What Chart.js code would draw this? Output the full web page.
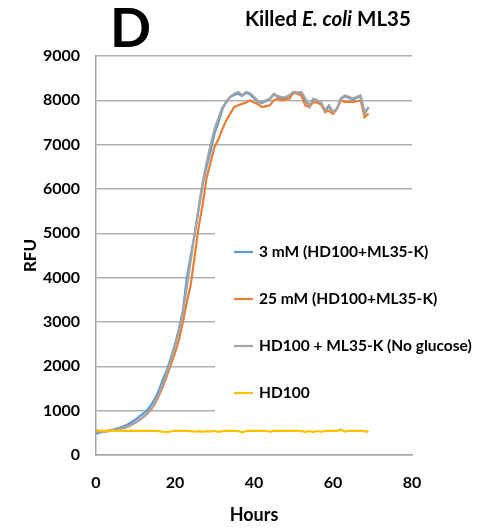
<!DOCTYPE html>
<html>
<head>
<meta charset="utf-8">
<script src="https://cdn.jsdelivr.net/npm/chart.js@4.4.1/dist/chart.umd.min.js"></script>
<style>
  html, body { margin: 0; padding: 0; background: #fff; }
  canvas { display: block; }
</style>
</head>
<body>
<canvas id="rfu-chart" width="488" height="528"></canvas>
<script>
const hours = [
  0, 1, 2, 3, 4, 5, 6, 7, 8, 9, 10, 11, 12, 13, 14, 15, 16, 17, 18, 19,
  20, 21, 22, 23, 24, 25, 26, 27, 28, 29, 30, 31, 32, 33, 34, 35, 36, 37, 38, 39,
  40, 41, 42, 43, 44, 45, 46, 47, 48, 49, 50, 51, 52, 53, 54, 55, 56, 57, 58, 59,
  60, 61, 62, 63, 64, 65, 66, 67, 68, 69,
];

const seriesNames = [
  "3 mM (HD100+ML35-K)",
  "25 mM (HD100+ML35-K)",
  "HD100 + ML35-K (No glucose)",
  "HD100",
];

const blue3mM = [
  480, 505, 530, 545, 565, 590, 615, 650, 690, 740, 800, 870, 940, 1010, 1140, 1280, 1480, 1720, 1930, 2200,
  2500, 2850, 3250, 4000, 4500, 5000, 5550, 6100, 6500, 6850, 7250, 7500, 7800, 7980, 8080, 8120, 8150, 8100, 8170, 8130,
  8050, 7970, 7940, 7980, 8020, 8130, 8080, 8050, 8060, 8100, 8170, 8160, 8170, 8000, 7850, 8020, 7990, 7920, 7740, 7870,
  7710, 7800, 8030, 8090, 8060, 8020, 8060, 8090, 7700, 7840,
];

const orange25mM = [
  520, 520, 530, 540, 555, 570, 590, 610, 640, 680, 730, 790, 860, 930, 1030, 1170, 1350, 1560, 1800, 2050,
  2300, 2600, 3000, 3450, 3850, 4500, 5150, 5650, 6250, 6600, 6950, 7120, 7350, 7550, 7700, 7850, 7890, 7920, 7950, 8000,
  7950, 7910, 7850, 7870, 7890, 8000, 8040, 8000, 8020, 8040, 8180, 8150, 8100, 7880, 7850, 7960, 7950, 7900, 7740, 7760,
  7700, 7820, 8000, 7960, 7970, 7960, 7980, 8000, 7620, 7700,
];

const grayNoGlucose = [
  520, 520, 530, 540, 555, 570, 590, 610, 640, 680, 730, 790, 860, 940, 1050, 1200, 1400, 1620, 1880, 2150,
  2450, 2800, 3200, 3800, 4400, 5000, 5600, 6150, 6600, 7000, 7350, 7600, 7850, 7950, 8080, 8150, 8190, 8120, 8190, 8160,
  8080, 7990, 7960, 8000, 8040, 8150, 8100, 8070, 8075, 8120, 8190, 8180, 8190, 8040, 7880, 8040, 8000, 7950, 7780, 7890,
  7740, 7820, 8050, 8110, 8080, 8040, 8080, 8110, 7720, 7850,
];

const hd100 = [
  560, 550, 545, 545, 545, 545, 545, 545, 545, 545, 545, 545, 545, 545, 545, 545, 540, 520, 515, 535,
  545, 545, 545, 545, 540, 525, 540, 520, 540, 530, 545, 520, 540, 545, 545, 545, 540, 510, 540, 545,
  545, 545, 545, 545, 525, 545, 545, 545, 545, 545, 545, 545, 540, 520, 540, 515, 540, 525, 545, 545,
  545, 545, 570, 530, 545, 545, 545, 545, 540, 520,
];

const seriesColors = ["#5b9bd5", "#ed7d31", "#a5a5a5", "#ffc000"];

const yTickMax = 9000;
const yTickStep = 1000;
const xTickMax = 80;
const xTickStep = 20;

const FONT = "Lato, 'Open Sans', sans-serif";

const toPoints = (values) => hours.map((h, i) => ({ x: h, y: values[i] }));
const plainTick = (value) => String(value);

const headerPlugin = {
  id: "header",
  afterDraw(chart) {
    const { ctx } = chart;
    ctx.save();
    ctx.fillStyle = "#000";
    ctx.textBaseline = "alphabetic";
    ctx.textAlign = "left";

    ctx.font = `bold 54px ${FONT}`;
    ctx.fillText("D", 110, 47);

    const parts = [
      { text: "Killed ", italic: false },
      { text: "E. coli", italic: true },
      { text: " ML35", italic: false },
    ];
    let x = 245;
    parts.forEach((part) => {
      ctx.font = `${part.italic ? "italic " : ""}bold 20.5px ${FONT}`;
      ctx.fillText(part.text, x, 26);
      x += ctx.measureText(part.text).width;
    });
    ctx.restore();
  },
};

const boxLegendPlugin = {
  id: "boxLegend",
  beforeDatasetsDraw(chart) {
    const { ctx } = chart;
    ctx.save();
    ctx.fillStyle = "#fff";
    ctx.fillRect(215, 222, 273, 200);
    ctx.restore();
  },
  afterDraw(chart) {
    const { ctx } = chart;
    ctx.save();
    ctx.font = `bold 15.5px ${FONT}`;
    ctx.textBaseline = "middle";
    ctx.textAlign = "left";
    chart.data.datasets.forEach((ds, i) => {
      const y = 252 + i * 47;
      ctx.strokeStyle = ds.borderColor;
      ctx.lineWidth = 2.2;
      ctx.beginPath();
      ctx.moveTo(234, y);
      ctx.lineTo(253, y);
      ctx.stroke();
      ctx.fillStyle = "#000";
      ctx.fillText(ds.label, 259, y);
    });
    ctx.restore();
  },
};

const seriesData = [blue3mM, orange25mM, grayNoGlucose, hd100];
const drawOrder = [3, 2, 1, 0];

new Chart(document.getElementById("rfu-chart"), {
  type: "line",
  data: {
    datasets: seriesData.map((values, i) => ({
      label: seriesNames[i],
      data: toPoints(values),
      borderColor: seriesColors[i],
      backgroundColor: seriesColors[i],
      borderWidth: 2.2,
      pointRadius: 0,
      tension: 0,
      order: drawOrder[i],
    })),
  },
  options: {
    responsive: false,
    animation: false,
    devicePixelRatio: 1,
    layout: {
      padding: { top: 56, right: 76, left: 0, bottom: 0 },
    },
    scales: {
      x: {
        type: "linear",
        min: 0,
        max: xTickMax,
        afterFit: (scale) => {
          scale.height = 73;
        },
        ticks: {
          stepSize: xTickStep,
          callback: plainTick,
          color: "#000",
          padding: 18,
          maxRotation: 0,
          font: { family: FONT, size: 16, weight: "bold" },
        },
        grid: { drawOnChartArea: false, drawTicks: false },
        border: { color: "#a6a6a6", width: 1.5 },
        title: {
          display: true,
          text: "Hours",
          color: "#000",
          font: { family: FONT, size: 18, weight: "bold" },
          padding: { top: 0, bottom: 2 },
        },
      },
      y: {
        min: 0,
        max: yTickMax,
        afterFit: (scale) => {
          scale.width = 96;
        },
        ticks: {
          stepSize: yTickStep,
          callback: plainTick,
          color: "#000",
          padding: 16,
          font: { family: FONT, size: 16, weight: "bold" },
        },
        grid: { color: "#b0b0b0", lineWidth: 1.5, drawTicks: false },
        border: { color: "#a6a6a6", width: 1.5 },
        title: {
          display: true,
          text: "RFU",
          color: "#000",
          font: { family: FONT, size: 17, weight: "bold" },
          padding: { top: 20, bottom: 0 },
        },
      },
    },
    plugins: {
      legend: { display: false },
      tooltip: { enabled: false },
    },
  },
  plugins: [headerPlugin, boxLegendPlugin],
});
</script>
</body>
</html>
